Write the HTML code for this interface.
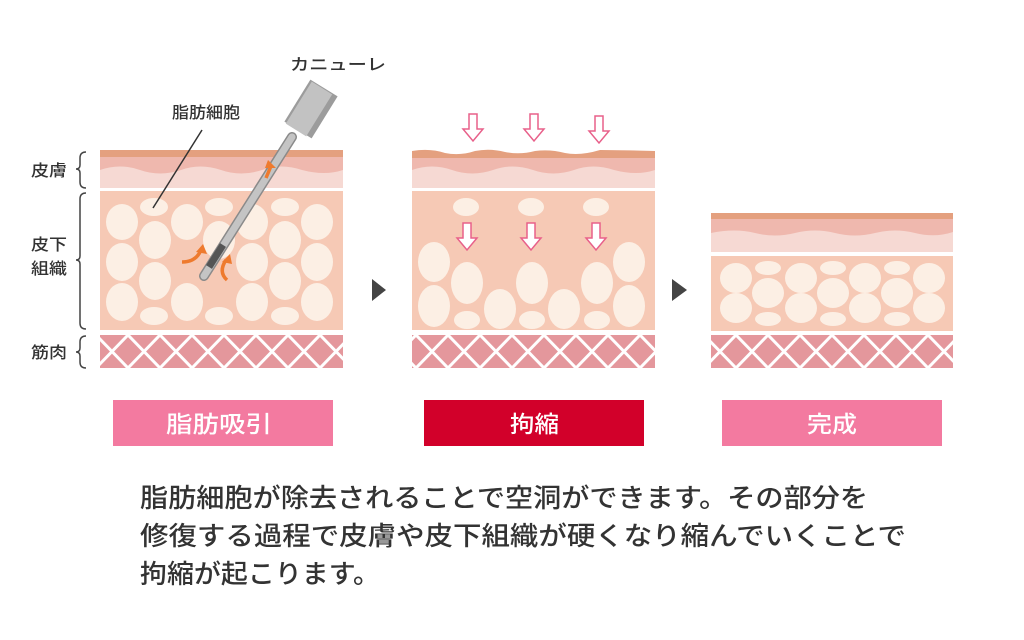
<!DOCTYPE html>
<html><head><meta charset="utf-8"><style>
html,body{margin:0;padding:0;background:#fff;}
svg{display:block}
text{font-family:"Liberation Sans","Noto Sans CJK JP",sans-serif;}
</style></head><body>
<svg width="1024" height="640" viewBox="0 0 1024 640" xmlns="http://www.w3.org/2000/svg">
<defs>
<pattern id="mus" x="0" y="335" width="32" height="33" patternUnits="userSpaceOnUse">
<rect width="32" height="33" fill="#e4979c"/>
<path d="M0 0 L32 33 M32 0 L0 33" stroke="#fff" stroke-width="3"/>
</pattern>
</defs>

<!-- Left labels -->
<g font-size="16" fill="#333" font-weight="500">
<text x="31" y="176" textLength="36" lengthAdjust="spacingAndGlyphs">皮膚</text>
<text x="31" y="250" textLength="36" lengthAdjust="spacingAndGlyphs">皮下</text>
<text x="31" y="274" textLength="36" lengthAdjust="spacingAndGlyphs">組織</text>
<text x="31" y="358" textLength="36" lengthAdjust="spacingAndGlyphs">筋肉</text>
</g>
<g fill="none" stroke="#444" stroke-width="1.5">
<path d="M86 152 Q80 152 80 158 L80 165 Q80 169 76 169 Q80 169 80 173 L80 182 Q80 188 86 188"/>
<path d="M86 193 Q80 193 80 199 L80 256 Q80 260 76 260 Q80 260 80 264 L80 323 Q80 329 86 329"/>
<path d="M86 336 Q80 336 80 342 L80 348 Q80 352 76 352 Q80 352 80 356 L80 362 Q80 368 86 368"/>
</g>

<!-- Panel 1 -->
<rect x="100" y="150" width="243" height="7" fill="#e4a07f"/>
<rect x="100" y="157" width="243" height="31" fill="#f6d9d3"/>
<path d="M100 157 H343 V170 Q325 176 302 170 Q281 163 262 170 Q241 177 221 170 Q200 163 181 170 Q160 177 140 170 Q120 163 100 170 Z" fill="#efb8ae"/>
<rect x="100" y="191" width="243" height="139" fill="#f6c9b5"/>
<rect x="100" y="335" width="243" height="33" fill="url(#mus)"/>
<g fill="#fcefe4">
<ellipse cx="122" cy="222" rx="16" ry="18"/><ellipse cx="122" cy="262" rx="16" ry="19"/><ellipse cx="122" cy="302" rx="16" ry="19"/>
<ellipse cx="154" cy="207" rx="14" ry="9"/><ellipse cx="155" cy="240" rx="16" ry="19"/><ellipse cx="155" cy="281" rx="16" ry="19"/><ellipse cx="154" cy="316" rx="14" ry="9"/>
<ellipse cx="187" cy="222" rx="16" ry="18"/><ellipse cx="187" cy="302" rx="16" ry="19"/>
<ellipse cx="219" cy="207" rx="14" ry="9"/><ellipse cx="219" cy="240" rx="16" ry="19"/><ellipse cx="219" cy="316" rx="14" ry="9"/>
<ellipse cx="252" cy="222" rx="16" ry="18"/><ellipse cx="252" cy="262" rx="16" ry="19"/><ellipse cx="252" cy="302" rx="16" ry="19"/>
<ellipse cx="285" cy="207" rx="14" ry="9"/><ellipse cx="285" cy="240" rx="16" ry="19"/><ellipse cx="285" cy="281" rx="16" ry="19"/><ellipse cx="285" cy="316" rx="14" ry="9"/>
<ellipse cx="317" cy="222" rx="16" ry="18"/><ellipse cx="317" cy="262" rx="16" ry="19"/><ellipse cx="317" cy="302" rx="16" ry="19"/>
</g>
<line x1="153" y1="208" x2="202" y2="130" stroke="#333" stroke-width="1.5"/>
<text x="172" y="118" font-size="16" fill="#333" font-weight="500" textLength="68" lengthAdjust="spacingAndGlyphs">脂肪細胞</text>
<text x="290" y="70" font-size="16" fill="#333" font-weight="500" textLength="96" lengthAdjust="spacingAndGlyphs">カニューレ</text>
<!-- cannula -->
<line x1="204" y1="276" x2="292" y2="137" stroke="#8a8a8a" stroke-width="10" stroke-linecap="round"/>
<line x1="204" y1="276" x2="292" y2="137" stroke="#c4c4c4" stroke-width="7" stroke-linecap="round"/>
<line x1="209" y1="267" x2="223" y2="245" stroke="#555" stroke-width="7"/>
<line x1="298" y1="130" x2="324" y2="88" stroke="#9c9c9c" stroke-width="32"/>
<line x1="296" y1="130" x2="322" y2="88" stroke="#c2c2c2" stroke-width="24"/>
<g stroke="#ee7a2e" stroke-width="3.5" fill="none">
<line x1="266" y1="178" x2="271" y2="166"/>
<path d="M182 262 Q196 262 201 250"/>
<path d="M227 280 Q218 272 226 260"/>
</g>
<g fill="#ee7a2e">
<path d="M268 160 L276 168 L265 168 Z"/>
<path d="M203 244 L207 254 L196 252 Z"/>
<path d="M230 254 L232 264 L222 262 Z"/>
</g>

<path d="M372 279 L386 290 L372 301 Z" fill="#444"/>
<path d="M672 279 L687 290 L672 301 Z" fill="#444"/>

<!-- Panel 2 -->
<rect x="412" y="157" width="243" height="31" fill="#f6d9d3"/>
<path d="M412 157 H655 V170 Q637 176 614 170 Q593 163 574 170 Q553 177 533 170 Q512 163 493 170 Q472 177 452 170 Q432 163 412 170 Z" fill="#efb8ae"/>
<path d="M412 151 Q430 148 445 153 Q460 156 475 151 Q490 148 505 152 Q520 155 535 151 Q550 149 565 153 Q580 156 600 150 Q615 150 655 151 V158 H412 Z" fill="#e4a07f"/>
<rect x="412" y="191" width="243" height="139" fill="#f6c9b5"/>
<rect x="412" y="335" width="243" height="33" fill="url(#mus)"/>
<g fill="#fcefe4">
<ellipse cx="466" cy="207" rx="13" ry="9"/><ellipse cx="531" cy="207" rx="13" ry="9"/><ellipse cx="596" cy="207" rx="13" ry="9"/>
<ellipse cx="434" cy="262" rx="16" ry="20"/><ellipse cx="434" cy="306" rx="16" ry="21"/>
<ellipse cx="467" cy="283" rx="16" ry="21"/><ellipse cx="467" cy="320" rx="13" ry="9"/>
<ellipse cx="500" cy="309" rx="16" ry="20"/>
<ellipse cx="532" cy="283" rx="16" ry="21"/><ellipse cx="532" cy="320" rx="13" ry="9"/>
<ellipse cx="564" cy="309" rx="16" ry="20"/>
<ellipse cx="597" cy="283" rx="16" ry="21"/><ellipse cx="597" cy="320" rx="13" ry="9"/>
<ellipse cx="629" cy="262" rx="16" ry="20"/><ellipse cx="629" cy="306" rx="16" ry="21"/>
</g>
<g fill="#fff" stroke="#e8608a" stroke-width="1.5">
<path d="M469 114 H477 V129 H483 L473 141 L463 129 H469 Z"/>
<path d="M530 114 H538 V129 H544 L534 141 L524 129 H530 Z"/>
<path d="M595 116 H603 V131 H609 L599 143 L589 131 H595 Z"/>
<path d="M463 223 H471 V238 H477 L467 250 L457 238 H463 Z"/>
<path d="M527 223 H535 V238 H541 L531 250 L521 238 H527 Z"/>
<path d="M592 223 H600 V238 H606 L596 250 L586 238 H592 Z"/>
</g>

<!-- Panel 3 -->
<rect x="711" y="213" width="242" height="6" fill="#e4a07f"/>
<rect x="711" y="219" width="242" height="33" fill="#f6d9d3"/>
<path d="M711 219 H953 V232 Q935 238 915 233 Q895 228 875 233 Q855 238 835 233 Q815 228 795 233 Q775 238 755 233 Q735 228 711 233 Z" fill="#efb8ae"/>
<rect x="711" y="256" width="242" height="75" fill="#f6c9b5"/>
<rect x="711" y="335" width="242" height="33" fill="url(#mus)"/>
<g fill="#fcefe4">
<ellipse cx="736" cy="278" rx="16" ry="15"/><ellipse cx="736" cy="308" rx="16" ry="15"/>
<ellipse cx="768" cy="268" rx="13" ry="7"/><ellipse cx="768" cy="293" rx="16" ry="15"/><ellipse cx="768" cy="319" rx="13" ry="7"/>
<ellipse cx="801" cy="278" rx="16" ry="15"/><ellipse cx="801" cy="308" rx="16" ry="15"/>
<ellipse cx="833" cy="268" rx="13" ry="7"/><ellipse cx="833" cy="293" rx="16" ry="15"/><ellipse cx="833" cy="319" rx="13" ry="7"/>
<ellipse cx="865" cy="278" rx="16" ry="15"/><ellipse cx="865" cy="308" rx="16" ry="15"/>
<ellipse cx="897" cy="268" rx="13" ry="7"/><ellipse cx="897" cy="293" rx="16" ry="15"/><ellipse cx="897" cy="319" rx="13" ry="7"/>
<ellipse cx="929" cy="278" rx="16" ry="15"/><ellipse cx="929" cy="308" rx="16" ry="15"/>
</g>

<!-- buttons -->
<rect x="113" y="400" width="220" height="46" fill="#f37aa0"/>
<rect x="424" y="400" width="220" height="46" fill="#d2002a"/>
<rect x="722" y="400" width="220" height="46" fill="#f37aa0"/>
<g font-size="23" fill="#fff" font-weight="500">
<text x="166" y="432" textLength="106" lengthAdjust="spacingAndGlyphs">脂肪吸引</text>
<text x="510" y="432" textLength="49" lengthAdjust="spacingAndGlyphs">拘縮</text>
<text x="807" y="432" textLength="50" lengthAdjust="spacingAndGlyphs">完成</text>
</g>

<g font-size="26" fill="#333" font-weight="500">
<text x="140" y="507" textLength="728" lengthAdjust="spacingAndGlyphs">脂肪細胞が除去されることで空洞ができます。その部分を</text>
<text x="140" y="545" textLength="766" lengthAdjust="spacingAndGlyphs">修復する過程で皮膚や皮下組織が硬くなり縮んでいくことで</text>
<text x="140" y="583" textLength="240" lengthAdjust="spacingAndGlyphs">拘縮が起こります。</text>
</g>
</svg>
</body></html>
